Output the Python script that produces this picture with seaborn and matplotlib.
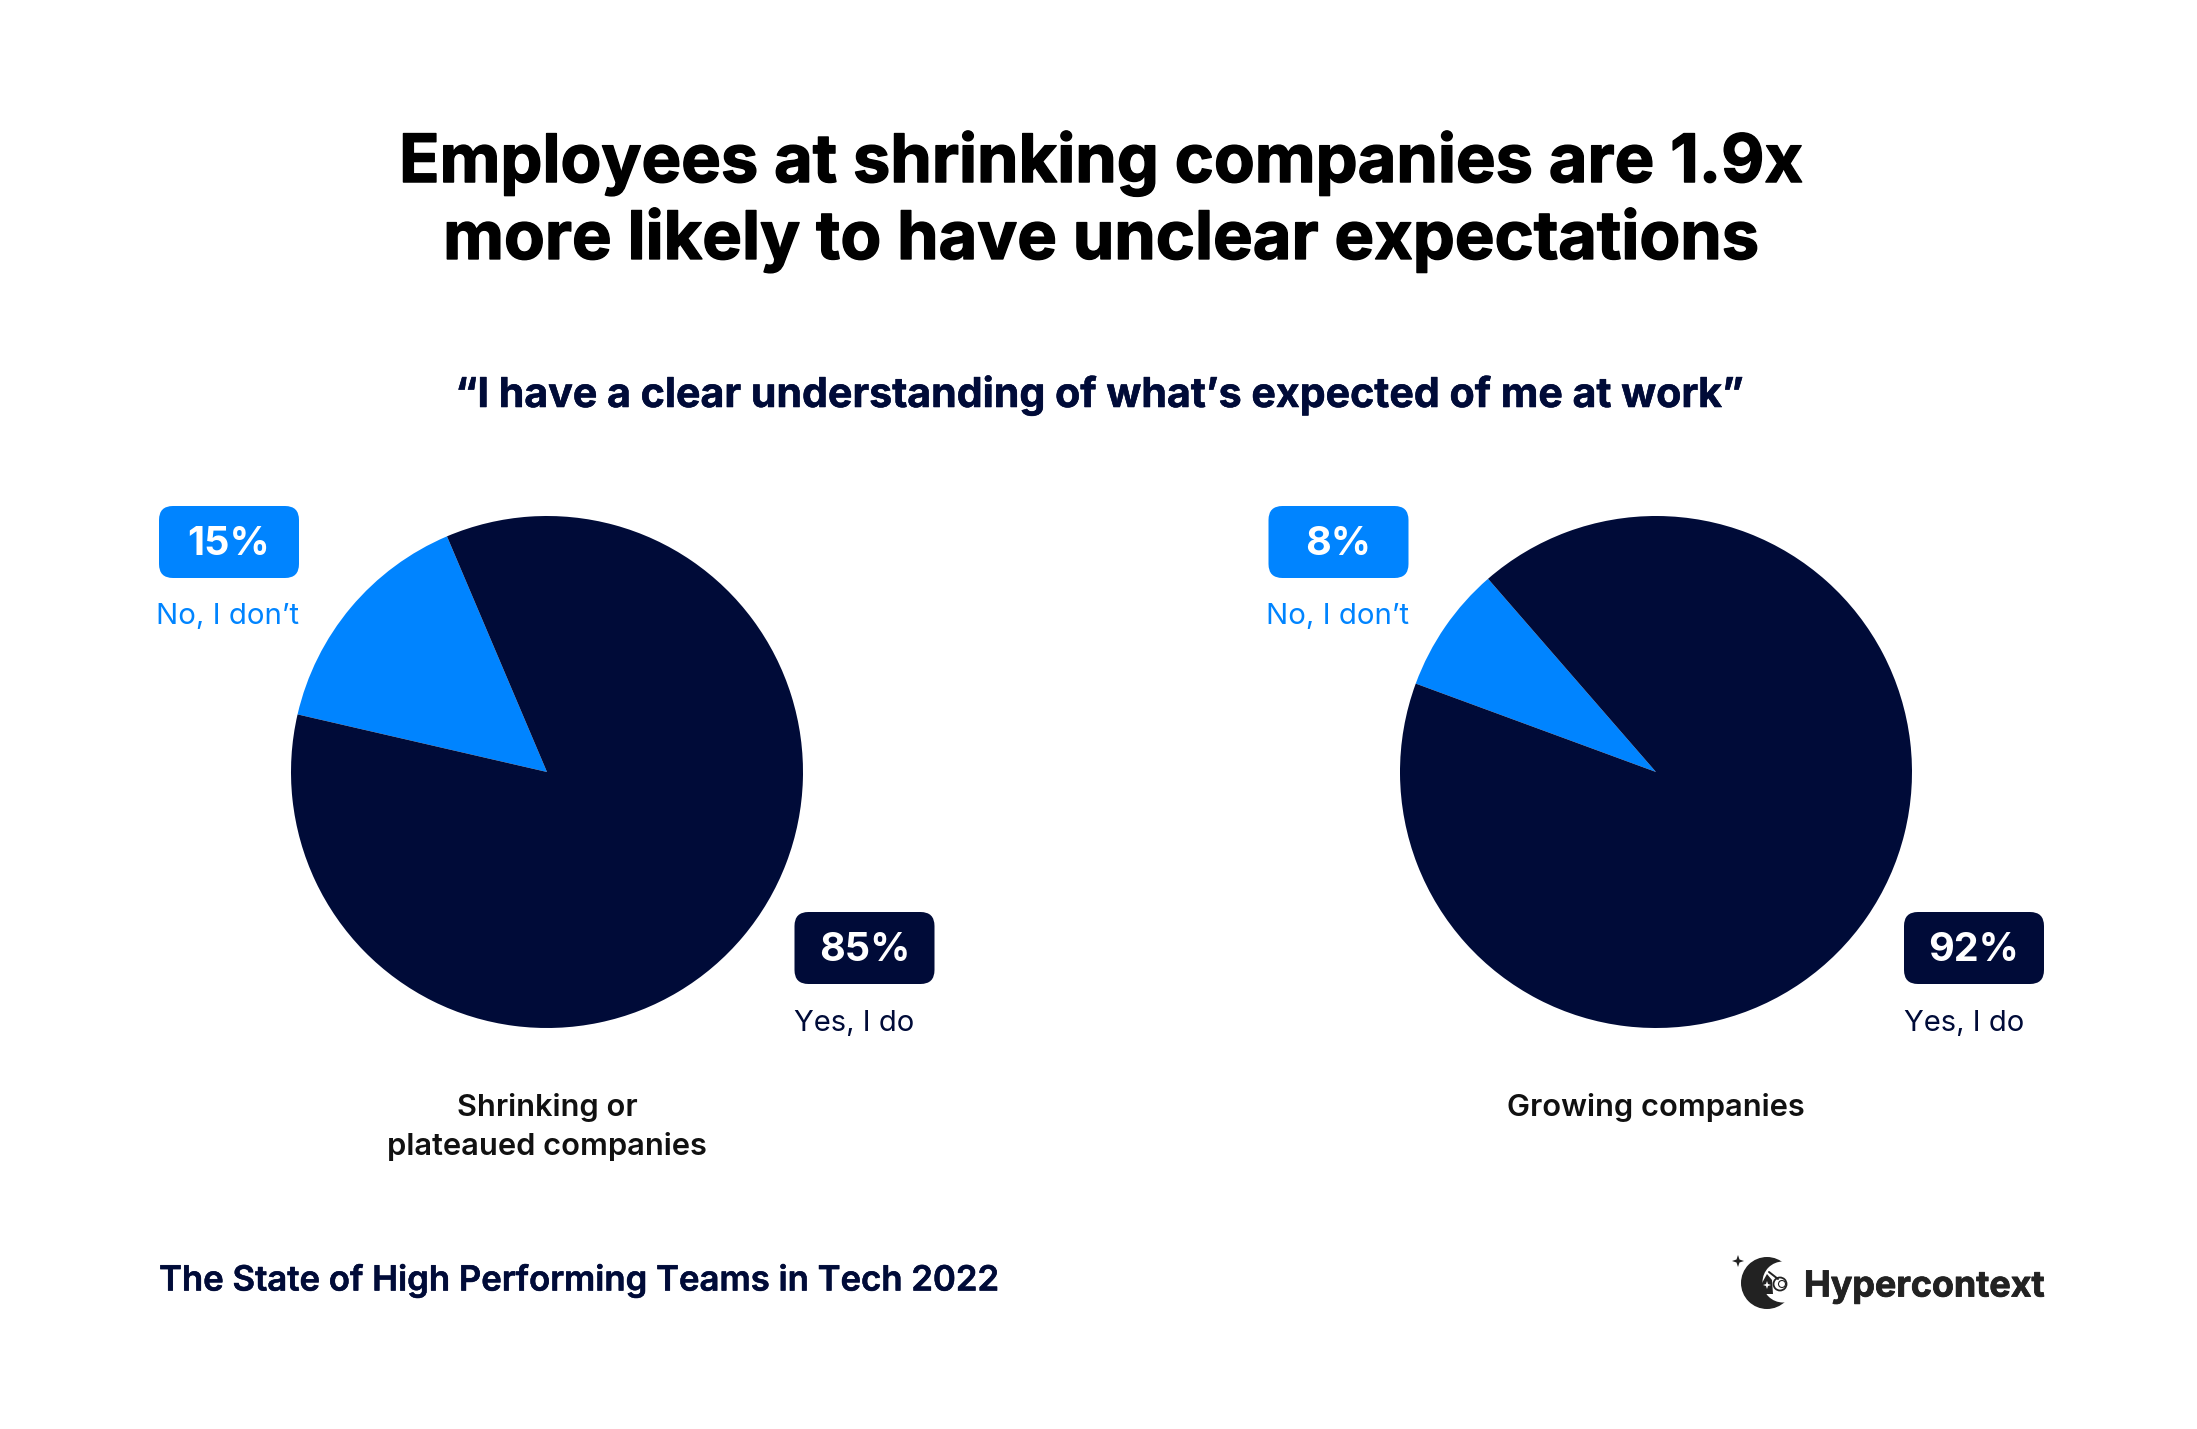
import numpy as np
import matplotlib
matplotlib.use("Agg")
import matplotlib.pyplot as plt
import matplotlib.patheffects as pe
from matplotlib.patches import FancyBboxPatch, Circle, Polygon
import seaborn as sns

W, H = 2197, 1429
NAVY = "#000b38"
BLUE = "#0084ff"
DARK = "#222222"

groups = ["Shrinking or\nplateaued companies", "Growing companies"]
no_vals = [15, 8]
yes_vals = [85, 92]
start_angles = [113, 131]
no_label = "No, I don’t"
yes_label = "Yes, I do"
title = "Employees at shrinking companies are 1.9x\nmore likely to have unclear expectations"
subtitle = "“I have a clear understanding of what’s expected of me at work”"
source = "The State of High Performing Teams in Tech 2022"
brand = "Hypercontext"

sns.set_theme(style="white")
plt.rcParams["font.family"] = ["Inter", "DejaVu Sans"]

fig = plt.figure(figsize=(W / 100, H / 100), dpi=100, facecolor="white")
bg = fig.add_axes([0, 0, 1, 1])
bg.set_xlim(0, W)
bg.set_ylim(H, 0)
bg.axis("off")

bg.text(1100.5, 202, title, ha="center", va="center", fontsize=48, fontweight="bold",
        color="black", linespacing=1.22,
        path_effects=[pe.withStroke(linewidth=1.0, foreground="black")])
bg.text(1100, 395, subtitle, ha="center", va="center", fontsize=29.6, fontweight="bold", color=NAVY,
        path_effects=[pe.withStroke(linewidth=0.4, foreground=NAVY)])


def pill(x, y, txt, col):
    rad = 14
    bg.add_patch(FancyBboxPatch((x + rad, y + rad), 140 - 2 * rad, 72 - 2 * rad,
                                boxstyle=f"round,pad={rad},rounding_size={rad}", fc=col, ec="none"))
    bg.text(x + 70, y + 38, txt, ha="center", va="center", fontsize=28.5, fontweight="bold", color="white")


cx_list = [547, 1656]
for i, cx in enumerate(cx_list):
    r = 256
    cy = 772
    ax = fig.add_axes([(cx - r) / W, 1 - (cy + r) / H, 2 * r / W, 2 * r / H])
    ax.pie([no_vals[i], yes_vals[i]], colors=[BLUE, NAVY], startangle=start_angles[i], radius=1,
           wedgeprops={"linewidth": 0})
    ax.set_xlim(-1, 1)
    ax.set_ylim(-1, 1)

    px = 159 + 1109.5 * i
    pill(px, 506, f"{no_vals[i]}%", BLUE)
    bg.text(px + 68.5, 616, no_label, ha="center", va="center", fontsize=21.1, color=BLUE)
    qx = 794.5 + 1109.5 * i
    pill(qx, 912, f"{yes_vals[i]}%", NAVY)
    bg.text(qx, 1023, yes_label, ha="left", va="center", fontsize=21, color=NAVY)
    bg.text(cx, 1093, groups[i], ha="center", va="top", fontsize=22.2,
            fontweight="semibold", color="#111111", linespacing=1.45)

bg.text(159, 1281, source, ha="left", va="center", fontsize=25, fontweight="semibold", color=NAVY,
        path_effects=[pe.withStroke(linewidth=0.4, foreground=NAVY)])
bg.text(1804, 1287, brand, ha="left", va="center", fontsize=25.8, fontweight="bold", color=DARK,
        path_effects=[pe.withStroke(linewidth=0.6, foreground=DARK)])

# logo mark: crescent, face and small star
bg.add_patch(Circle((1767, 1283), 26, fc=DARK, ec="none"))
bg.add_patch(Circle((1783, 1282), 20.5, fc="white", ec="none"))
bg.add_patch(Polygon([(1762, 1283), (1767, 1274), (1772, 1280), (1773, 1294), (1762, 1294)], fc=DARK, ec="none"))
bg.add_patch(Circle((1780, 1284), 6.5, fc="white", ec=DARK, lw=1.3))
bg.add_patch(Circle((1782, 1284), 3.5, fc="white", ec=DARK, lw=0.8))
bg.plot([1769, 1778], [1272, 1279], color=DARK, lw=1.4)
bg.add_patch(Polygon([(1738, 1255), (1739.5, 1259.5), (1744, 1261), (1739.5, 1262.5),
                      (1738, 1267), (1736.5, 1262.5), (1732, 1261), (1736.5, 1259.5)], fc=DARK, ec="none"))
bg.add_patch(Polygon([(1767, 1281), (1768, 1284), (1771, 1285), (1768, 1286),
                      (1767, 1289), (1766, 1286), (1763, 1285), (1766, 1284)], fc="white", ec="none"))

fig.savefig("out.png", dpi=100)
